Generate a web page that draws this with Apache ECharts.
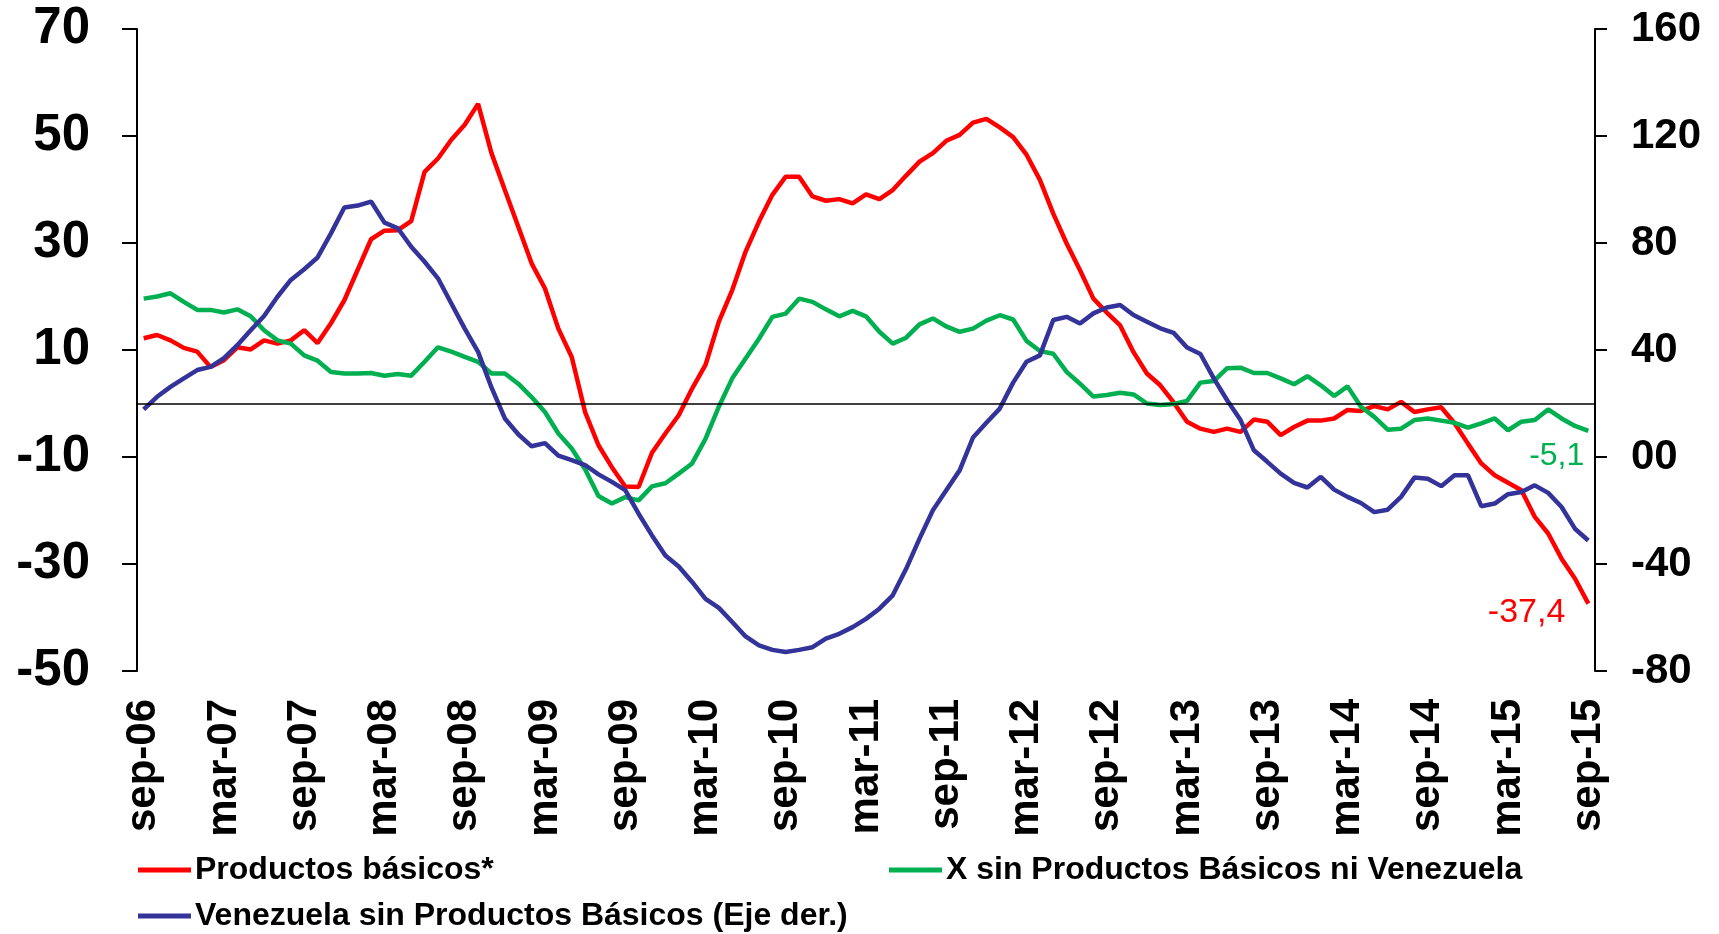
<!DOCTYPE html>
<html>
<head>
<meta charset="utf-8">
<title>Exportaciones</title>
<script src="https://cdn.jsdelivr.net/npm/echarts@6.0.0/dist/echarts.min.js"></script>
<style>
html, body { margin: 0; padding: 0; background: #ffffff; }
#chart { width: 1719px; height: 934px; }
</style>
</head>
<body>
<div id="chart"></div>
<script>
// meses sep-06 .. sep-15
var MESES = ['ene','feb','mar','abr','may','jun','jul','ago','sep','oct','nov','dic'];
var fechas = [];
for (var k = 0; k < 109; k++) {
	var m = (8 + k) % 12;
	var a = 6 + Math.floor((8 + k) / 12);
	fechas.push(MESES[m] + '-' + (a < 10 ? '0' + a : '' + a));
}

// Productos basicos* (eje izq.)
var productos = [
	12.2, 12.8, 11.8, 10.4, 9.7, 6.8, 8.1, 10.5, 10.1, 11.8, 11.2, 11.8,
	13.7, 11.3, 15.0, 19.3, 25.0, 30.7, 32.3, 32.4, 34.1, 43.3, 45.8, 49.3,
	52.1, 56.0, 46.8, 39.9, 33.1, 26.2, 21.5, 14.0, 8.7, -1.6, -7.8, -11.9,
	-15.5, -15.6, -9.2, -5.6, -2.2, 2.8, 7.2, 15.3, 21.2, 28.4, 34.0, 39.0,
	42.4, 42.4, 38.7, 37.9, 38.2, 37.4, 39.1, 38.2, 39.9, 42.6, 45.2, 46.8,
	49.1, 50.2, 52.5, 53.2, 51.6, 49.8, 46.5, 41.8, 35.5, 29.9, 24.9, 19.6,
	17.0, 14.6, 9.6, 5.6, 3.4, 0.2, -3.4, -4.7, -5.3, -4.7, -5.3, -3.0,
	-3.4, -5.9, -4.4, -3.2, -3.2, -2.8, -1.2, -1.4, -0.5, -1.1, 0.3, -1.6,
	-1.1, -0.7, -3.7, -7.5, -11.2, -13.4, -14.8, -16.2, -21.2, -24.3, -29.0, -32.7,
	-37.4
];

// X sin Productos Basicos ni Venezuela (eje izq.)
var sinPB = [
	19.6, 20.0, 20.6, 19.0, 17.5, 17.5, 17.0, 17.6, 16.3, 13.7, 11.8, 11.2,
	9.0, 8.0, 5.9, 5.6, 5.6, 5.7, 5.2, 5.5, 5.2, 7.8, 10.5, 9.7,
	8.7, 7.8, 5.6, 5.6, 3.7, 1.2, -1.6, -5.6, -8.4, -12.3, -17.3, -18.7,
	-17.5, -18.1, -15.5, -14.9, -13.1, -11.2, -6.6, -0.6, 4.7, 8.4, 12.1, 16.2,
	16.8, 19.6, 19.0, 17.6, 16.3, 17.3, 16.3, 13.4, 11.2, 12.3, 14.8, 15.9,
	14.4, 13.4, 14.0, 15.5, 16.5, 15.7, 11.7, 9.8, 9.3, 5.9, 3.7, 1.3,
	1.6, 2.0, 1.7, 0.0, -0.3, -0.1, 0.5, 3.9, 4.2, 6.6, 6.7, 5.7,
	5.7, 4.7, 3.6, 5.1, 3.4, 1.4, 3.2, -0.6, -2.5, -4.9, -4.7, -3.1,
	-2.8, -3.2, -3.6, -4.5, -3.7, -2.8, -5.0, -3.4, -3.1, -1.1, -2.8, -4.2,
	-5.1
];

// Venezuela sin Productos Basicos (eje der.)
var venezuela = [
	17.8, 22.5, 26.2, 29.4, 32.5, 33.7, 37.0, 41.8, 47.4, 52.7, 59.9, 66.2,
	70.2, 74.6, 83.6, 93.3, 94.0, 95.5, 87.6, 85.5, 78.6, 73.0, 66.8, 57.4,
	48.0, 39.3, 26.0, 14.4, 8.5, 4.0, 5.2, 0.5, -1.2, -3.0, -6.5, -9.3,
	-12.4, -21.2, -29.3, -36.8, -40.9, -46.7, -53.0, -56.4, -61.7, -67.1, -70.4, -72.1,
	-72.9, -72.1, -71.1, -67.9, -66.1, -63.6, -60.5, -56.7, -51.7, -41.8, -30.5, -19.9,
	-12.4, -5.0, 7.3, 12.8, 18.1, 27.8, 35.6, 38.0, 51.2, 52.4, 49.9, 53.7,
	55.9, 56.8, 53.1, 50.6, 48.1, 46.4, 40.9, 38.5, 29.4, 21.2, 13.8, 2.5,
	-1.8, -6.2, -9.7, -11.4, -7.4, -12.2, -14.9, -17.2, -20.6, -19.7, -14.9, -7.7,
	-8.1, -10.9, -6.8, -6.8, -18.4, -17.4, -13.9, -13.1, -10.6, -13.4, -18.7, -26.8,
	-31.2
];

var NOMBRES = [
	'Productos básicos*',
	'X sin Productos Básicos ni Venezuela',
	'Venezuela sin Productos Básicos (Eje der.)'
];

var FONT = "'Liberation Sans', Arial, sans-serif";
var ROJO = '#FF0000', VERDE = '#00B050', AZUL = '#333399';

function coma(v)
{
	return String(v).replace('.', ',');
}

function ultimoPunto(serie, color, size, dist, off)
{
	var n = serie.length - 1;
	return {
		silent : true,
		symbol : 'circle',
		symbolSize : 0,
		data : [ {
			coord : [ n, serie[n] ],
			label : {
				show : true,
				position : 'left',
				distance : dist,
				offset : off,
				formatter : coma(serie[n]),
				color : color,
				fontSize : size,
				fontFamily : FONT
			}
		} ]
	};
}

function leyenda(nombre, left, top)
{
	return {
		left : left,
		top : top,
		padding : 0,
		selectedMode : false,
		icon : 'rect',
		itemWidth : 53,
		itemHeight : 5,
		itemGap : 0,
		data : [ nombre ],
		textStyle : {
			fontSize : 32,
			fontWeight : 'bold',
			color : '#000',
			fontFamily : FONT,
			lineHeight : 34,
			padding : [0, 0, 0, -1]
		}
	};
}

function initChart()
{
	var option = {
		backgroundColor : '#ffffff',
		animation : false,
		grid : {
			left : 137,
			right : 124,
			top : 29,
			bottom : 263
		},
		legend : [
			leyenda(NOMBRES[0], 138, 853),
			leyenda(NOMBRES[1], 889, 853),
			leyenda(NOMBRES[2], 138, 899)
		],
		xAxis : {
			type : 'category',
			data : fechas,
			boundaryGap : true,
			axisLine : { show : false, onZero : false },
			axisTick : { show : false },
			splitLine : { show : false },
			axisLabel : {
				interval : 5,
				rotate : 90,
				margin : 28,
				fontSize : 42,
				fontWeight : 'bold',
				color : '#000',
				fontFamily : FONT
			}
		},
		yAxis : [
			{
				type : 'value',
				position : 'left',
				min : -50,
				max : 70,
				interval : 20,
				splitLine : { show : false },
				axisLine : { show : true, lineStyle : { color : '#000', width : 2 } },
				axisTick : { show : true, length : 15, lineStyle : { color : '#000', width : 2 } },
				axisLabel : {
					margin : 47,
					fontSize : 51,
					fontWeight : 'bold',
					color : '#000',
					fontFamily : FONT
				}
			},
			{
				type : 'value',
				position : 'right',
				min : -80,
				max : 160,
				interval : 40,
				splitLine : { show : false },
				axisLine : { show : true, lineStyle : { color : '#000', width : 2 } },
				axisTick : { show : true, length : 12, lineStyle : { color : '#000', width : 2 } },
				axisLabel : {
					margin : 36,
					fontSize : 42,
					fontWeight : 'bold',
					color : '#000',
					fontFamily : FONT,
					formatter : function (v) {
						return v === 0 ? '00' : String(v);
					}
				}
			}
		],
		series : [
			{
				name : NOMBRES[0],
				type : 'line',
				yAxisIndex : 0,
				data : productos,
				showSymbol : false,
				color : ROJO,
				lineStyle : { color : ROJO, width : 4.5 },
				markLine : {
					silent : true,
					symbol : [ 'none', 'none' ],
					label : { show : false },
					lineStyle : { color : '#000', width : 1.5, type : 'solid' },
					data : [ { yAxis : 0 } ]
				},
				markPoint : ultimoPunto(productos, ROJO, 34, 23, [0, 9])
			},
			{
				name : NOMBRES[1],
				type : 'line',
				yAxisIndex : 0,
				data : sinPB,
				showSymbol : false,
				color : VERDE,
				lineStyle : { color : VERDE, width : 4.5 },
				markPoint : ultimoPunto(sinPB, VERDE, 32, 4, [0, 25])
			},
			{
				name : NOMBRES[2],
				type : 'line',
				yAxisIndex : 1,
				data : venezuela,
				showSymbol : false,
				color : AZUL,
				lineStyle : { color : AZUL, width : 4.5 }
			}
		]
	};
	var myChart = echarts.init(document.getElementById('chart'));
	myChart.setOption(option);
}

window.onload = initChart;
</script>
</body>
</html>
